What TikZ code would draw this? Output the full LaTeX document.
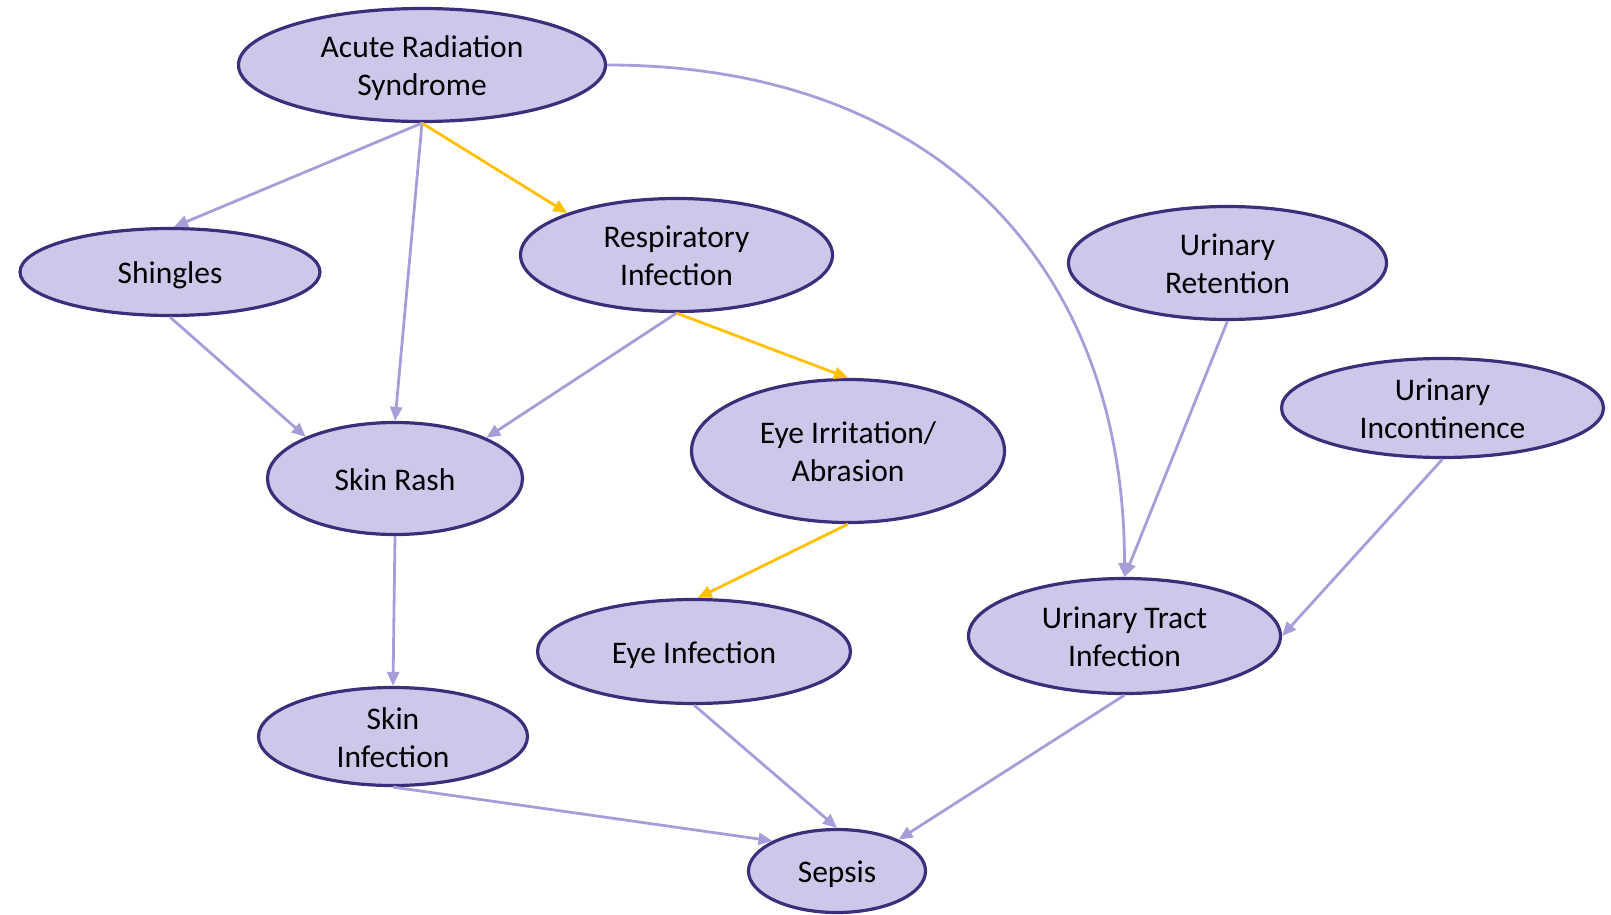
\documentclass[tikz,border=0pt]{standalone}
\usepackage{fontspec}
\setmainfont{Carlito}
\usetikzlibrary{shapes.geometric,arrows.meta}
\definecolor{nodefill}{RGB}{205,199,234}
\definecolor{nodeline}{RGB}{60,46,122}
\definecolor{edgecol}{RGB}{168,157,216}
\definecolor{yel}{RGB}{255,192,0}
\newcommand{\ls}{\rule[-7.5pt]{0pt}{38pt}}
\begin{document}
\begin{tikzpicture}[x=1pt,y=-1pt,
  ell/.style={ellipse,draw=nodeline,fill=nodefill,line width=3.2pt,inner xsep=0pt,inner ysep=-10pt,
    align=center,text=black,font=\fontsize{31.5}{38}\selectfont},
  edge/.style={draw=edgecol,line width=2.8pt,-{Triangle[length=14pt,width=12pt]}},
  yedge/.style={draw=yel,line width=2.8pt,-{Triangle[length=14pt,width=12pt]}}]
\useasboundingbox (0,0) rectangle (1611,915);
\node[ell,minimum width=367pt,minimum height=113pt] (ars) at (422,65) {\ls Acute Radiation\\\ls Syndrome};
\node[ell,minimum width=300pt,minimum height=87pt] (shi) at (170,272) {\ls Shingles};
\node[ell,minimum width=312pt,minimum height=113pt] (resp) at (676.5,255) {\ls Respiratory\\\ls Infection};
\node[ell,minimum width=318pt,minimum height=113pt] (uret) at (1227.5,263) {\ls Urinary\\\ls Retention};
\node[ell,minimum width=322pt,minimum height=99pt] (uinc) at (1442.5,408) {\ls Urinary\\\ls Incontinence};
\node[ell,minimum width=255pt,minimum height=112pt] (rash) at (395,478.5) {\ls Skin Rash};
\node[ell,minimum width=313pt,minimum height=143pt] (eirr) at (848,451) {\ls Eye Irritation/\\\ls Abrasion};
\node[ell,minimum width=313pt,minimum height=104pt] (einf) at (694,651.5) {\ls Eye Infection};
\node[ell,minimum width=312pt,minimum height=115pt] (uti) at (1124.5,636) {\ls Urinary Tract\\\ls Infection};
\node[ell,minimum width=269pt,minimum height=98pt] (sinf) at (393,736.5) {\ls Skin\\\ls Infection};
\node[ell,minimum width=177pt,minimum height=83pt] (sep) at (837,871) {\ls Sepsis};

\draw[edge] (ars.south) -- (shi.85);
\draw[edge] (ars.south) -- (rash.north);
\draw[yedge] (ars.south) -- (resp.159);
\draw[edge] (shi.south) -- (rash.155);
\draw[edge] (resp.south) -- (rash.24);
\draw[yedge] (resp.south) -- (eirr.north);
\draw[yedge] (eirr.south) -- (einf.86);
\draw[edge] (rash.south) -- (sinf.north);
\draw[edge] (sinf.south) -- (sep.155);
\draw[edge] (einf.south) -- (sep.north);
\draw[edge] (uti.south) -- (sep.27);
\draw[edge] (uret.south) -- (uti.north);
\draw[edge] (uinc.south) -- (uti.east);
\draw[edge] (ars.east) .. controls +(320,0) and +(0,-320) .. (uti.north);
\end{tikzpicture}
\end{document}
